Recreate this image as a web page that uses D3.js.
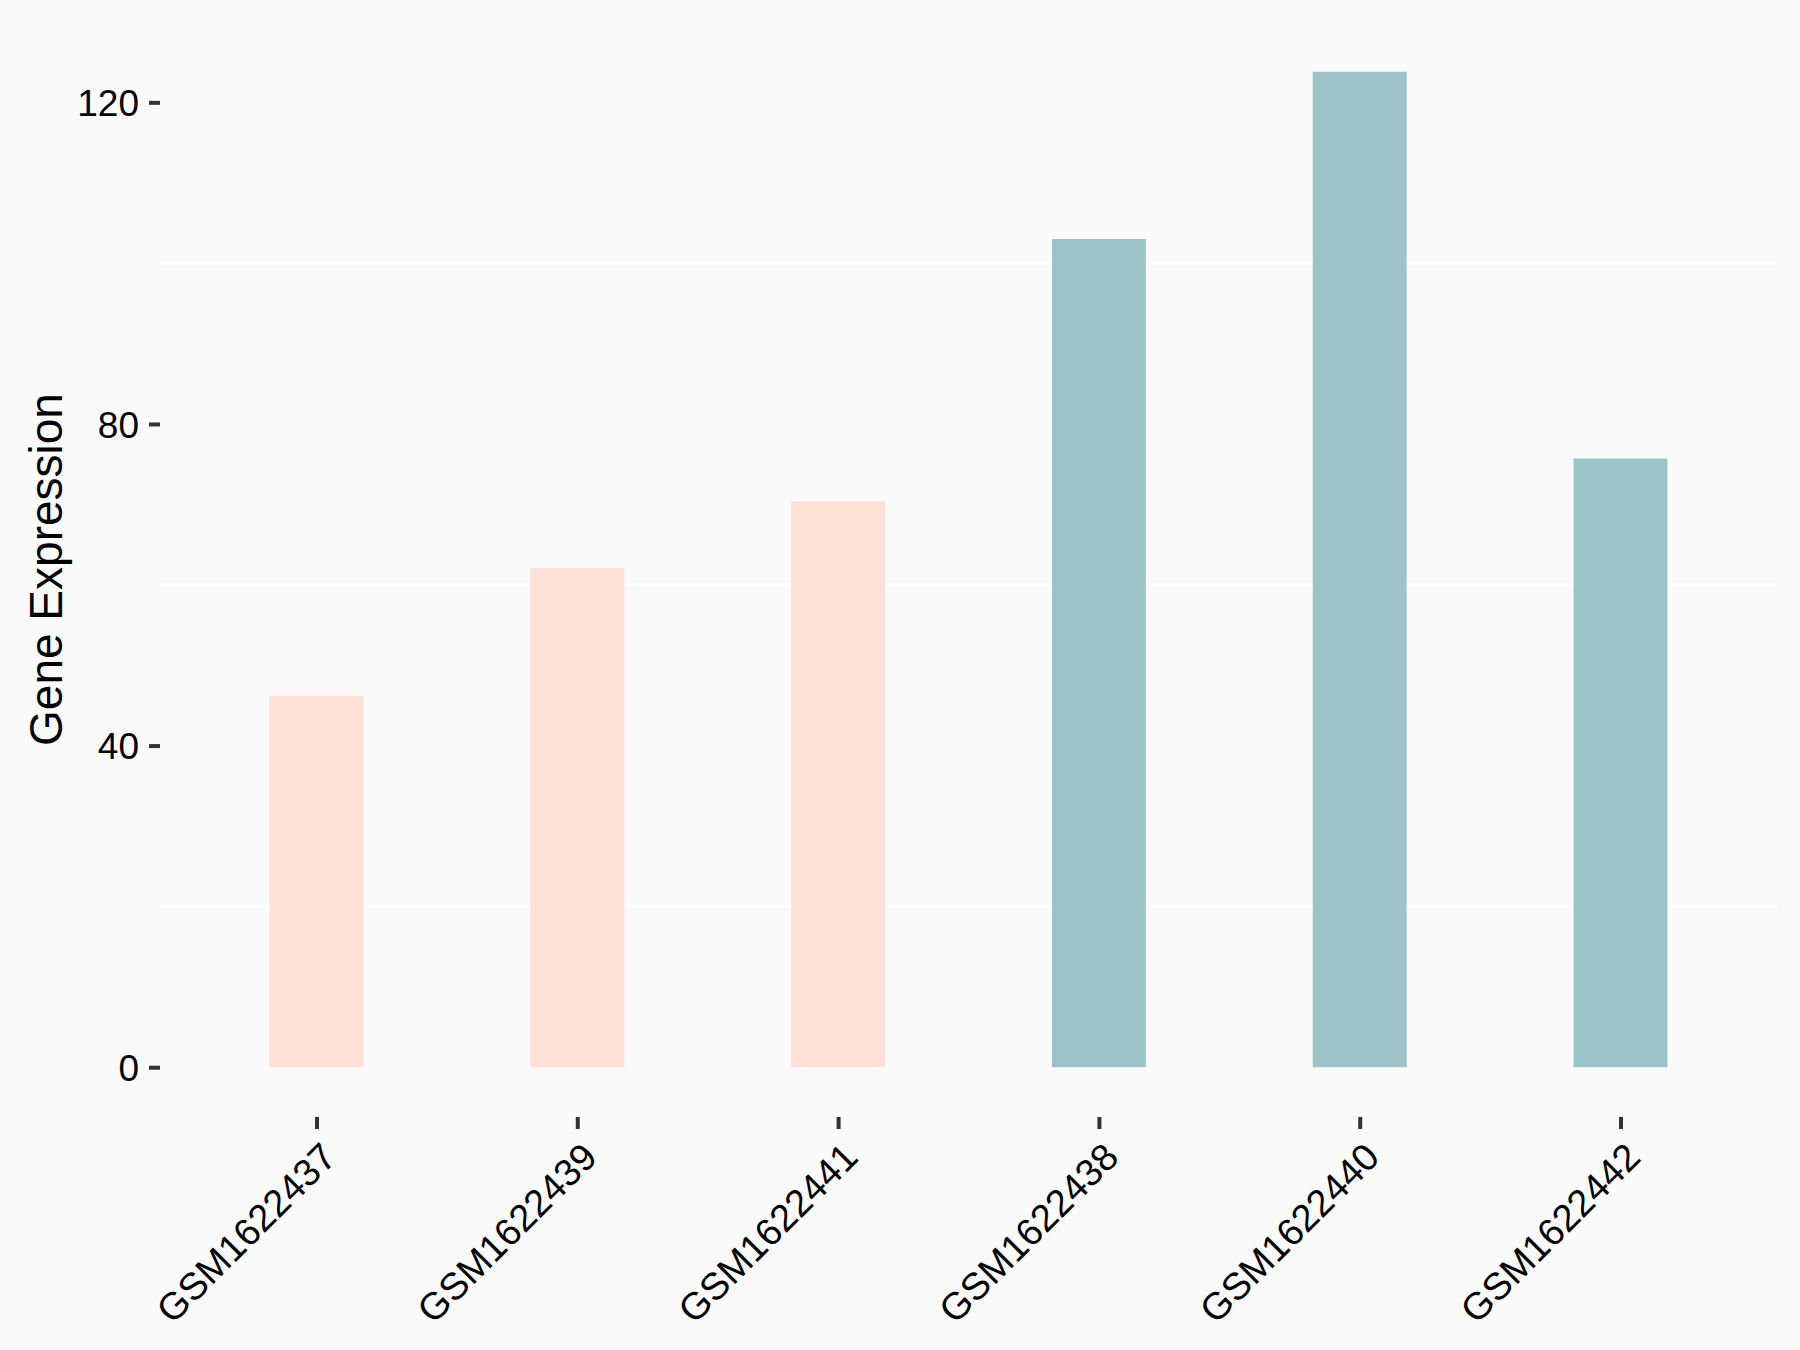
<!DOCTYPE html>
<html>
<head>
<meta charset="utf-8">
<script src="https://cdn.jsdelivr.net/npm/d3@7"></script>
<style>
  body { margin: 0; background: #FAFAFA; }
  svg text { font-family: "Liberation Sans", Arial, sans-serif; }
</style>
</head>
<body>
<svg id="chart" width="1800" height="1350"></svg>
<script>
// data
const samples = ["GSM1622437", "GSM1622439", "GSM1622441", "GSM1622438", "GSM1622440", "GSM1622442"];
const expression = [46.2, 62.1, 70.4, 103.0, 123.8, 75.7];
const groups = ["A", "A", "A", "B", "B", "B"];
const yTicks = [0, 40, 80, 120];
const yMinor = [20, 60, 100];

const groupColor = { A: "#FEE0D6", B: "#9CC3C8" };

const data = samples.map((s, i) => ({ sample: s, value: expression[i], group: groups[i] }));

const svg = d3.select("#chart");
const W = 1800, H = 1350;
const panelL = 160, panelR = 1777, panelT = 22, panelB = 1117;

svg.append("rect").attr("width", W).attr("height", H).attr("fill", "#FAFAFA");

// discrete x scale with ggplot-like 0.6 expansion
const x = d3.scaleLinear()
    .domain([-0.6, samples.length - 1 + 0.6])
    .range([panelL, panelR]);

const ymax = d3.max(expression);
const y = d3.scaleLinear()
    .domain([-0.05 * ymax, ymax * 1.05])
    .range([panelB, panelT]);

const barW = 0.36;

// minor grid lines
svg.append("g").selectAll("line")
    .data(yMinor)
    .join("line")
    .attr("x1", panelL).attr("x2", panelR)
    .attr("y1", d => y(d)).attr("y2", d => y(d))
    .attr("stroke", "#FFFFFF")
    .attr("stroke-width", 2.5);

// bars
svg.append("g").selectAll("rect")
    .data(data)
    .join("rect")
    .attr("x", (d, i) => x(i - barW / 2))
    .attr("width", (d, i) => x(i + barW / 2) - x(i - barW / 2))
    .attr("y", d => y(d.value))
    .attr("height", d => y(0) - y(d.value))
    .attr("fill", d => groupColor[d.group]);

// y axis
const yAxis = d3.axisLeft(y)
    .tickValues(yTicks)
    .tickSize(11)
    .tickPadding(10);

const gy = svg.append("g")
    .attr("transform", `translate(${panelL},0)`)
    .call(yAxis);
gy.select(".domain").remove();
gy.selectAll(".tick line").attr("stroke", "#333333").attr("stroke-width", 4);
gy.selectAll(".tick text")
    .attr("fill", "#000")
    .attr("font-size", 37)
    .attr("dy", "0.36em");

// x axis
const xAxis = d3.axisBottom(x)
    .tickValues(d3.range(samples.length))
    .tickFormat(i => samples[i])
    .tickSize(12);

const gx = svg.append("g")
    .attr("transform", `translate(0,${panelB})`)
    .call(xAxis);
gx.select(".domain").remove();
gx.selectAll(".tick line").attr("stroke", "#333333").attr("stroke-width", 4);
gx.selectAll(".tick text")
    .attr("fill", "#000")
    .attr("font-size", 38)
    .attr("text-anchor", "end")
    .attr("y", 0)
    .attr("dy", "0.72em")
    .attr("transform", "translate(2,23) rotate(-45)");

// y title
svg.append("text")
    .attr("transform", `translate(62,${(panelT + panelB) / 2}) rotate(-90)`)
    .attr("text-anchor", "middle")
    .attr("font-size", 46)
    .attr("fill", "#000")
    .text("Gene Expression");
</script>
</body>
</html>
